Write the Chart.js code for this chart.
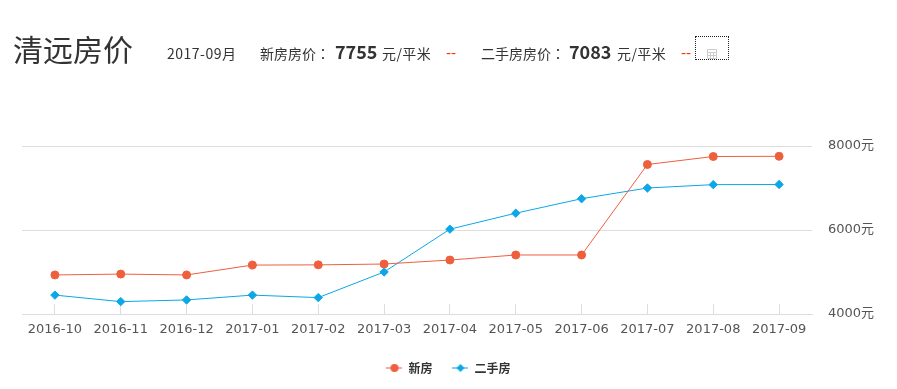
<!DOCTYPE html>
<html><head><meta charset="utf-8">
<script src="https://cdn.jsdelivr.net/npm/chart.js@4"></script>
<style>
html,body{margin:0;padding:0;background:#fff;width:897px;height:389px;overflow:hidden}
#wrap{position:relative;width:897px;height:389px;font-family:"Noto Sans CJK SC","Noto Sans",sans-serif;color:#333}
#wrap span.t{position:absolute;white-space:nowrap;line-height:20px;font-size:14px;top:43px}
#wrap span.n{font-size:18px;font-weight:700;top:41px}
#wrap span.u{letter-spacing:.4px}
#wrap span.d{color:#f30;font-family:"DejaVu Sans",sans-serif}
#wrap i{font-style:normal;font-family:"Noto Sans CJK TC",sans-serif}
#chart{position:absolute;left:0;top:0}
</style></head><body>
<div id="wrap">
<canvas id="chart" width="897" height="389"></canvas>
<span class="t" style="left:13px;top:26px;line-height:44px;font-size:30px;font-weight:400">清远房价</span>
<span class="t" style="left:167px;letter-spacing:.5px">2017-09月</span>
<span class="t" style="left:260px">新房房价<i>：</i></span>
<span class="t n" style="left:335px">7755</span>
<span class="t u" style="left:382px">元/平米</span>
<span class="t d" style="left:446px">--</span>
<span class="t" style="left:481px">二手房房价<i>：</i></span>
<span class="t n" style="left:569px">7083</span>
<span class="t u" style="left:617px">元/平米</span>
<span class="t d" style="left:681px">--</span>
<div style="position:absolute;left:695px;top:36px;width:32px;height:22px;border:1px dotted #222">
<svg width="10" height="10" style="position:absolute;left:11px;top:12px" viewBox="0 0 10 10"><path d="M.5.5h9v9h-9zM.5 3.5h9M.5 6.5h9M3.5 3.5v6M6.5 3.5v6" fill="none" stroke="#ccc"/></svg>
</div>
</div>
<script>
const categories=["2016-10","2016-11","2016-12","2017-01","2017-02","2017-03","2017-04","2017-05","2017-06","2017-07","2017-08","2017-09"];
const newHomes=[4930,4950,4930,5165,5170,5190,5285,5405,5405,7560,7750,7755];
const resaleHomes=[4450,4295,4335,4450,4390,5000,6020,6400,6745,7000,7080,7083];
const yTicks=[4000,6000,8000];
const newColor="#ee5f3d", resaleColor="#0ba7e6";

function legendIcon(color,shape){
  const c=document.createElement('canvas');c.width=16;c.height=10;
  const x=c.getContext('2d');
  x.strokeStyle=color;x.globalAlpha=.7;x.lineWidth=1.5;x.beginPath();x.moveTo(0,5);x.lineTo(16,5);x.stroke();
  x.globalAlpha=1;x.fillStyle=color;x.beginPath();
  if(shape==='circle'){x.arc(8,5,4,0,Math.PI*2);}
  else{x.moveTo(8,1);x.lineTo(12,5);x.lineTo(8,9);x.lineTo(4,5);x.closePath();}
  x.fill();return c;
}
const icons=[legendIcon(newColor,'circle'),legendIcon(resaleColor,'diamond')];
const AXIS_FONT='"DejaVu Sans","Noto Sans CJK SC",sans-serif';

new Chart(document.getElementById('chart'),{
  type:'line',
  data:{labels:categories,datasets:[
    {label:'新房',data:newHomes,borderColor:newColor,backgroundColor:newColor,borderWidth:1,pointStyle:'circle',pointRadius:4,pointHoverRadius:4,tension:0},
    {label:'二手房',data:resaleHomes,borderColor:resaleColor,backgroundColor:resaleColor,borderWidth:1,pointStyle:'rectRot',pointRadius:4.2,pointHoverRadius:4.2,tension:0}
  ]},
  options:{
    responsive:false,animation:false,
    layout:{padding:{left:0,top:146,right:0,bottom:5}},
    plugins:{
      tooltip:{enabled:false},
      legend:{position:'bottom',labels:{
        usePointStyle:true,pointStyleWidth:16,boxHeight:10,padding:20,color:'#333',
        font:{family:'"Noto Sans CJK SC",sans-serif',size:12,weight:'bold'},
        generateLabels(chart){return chart.data.datasets.map((d,i)=>({text:d.label,pointStyle:icons[i],datasetIndex:i,fontColor:'#333',hidden:false,lineWidth:0,strokeStyle:'transparent',fillStyle:d.borderColor}));}
      }}
    },
    scales:{
      x:{offset:true,
        grid:{drawOnChartArea:false,drawTicks:true,tickLength:-10,color:'#ddd',lineWidth:1},
        border:{display:true,color:'#ddd',width:1},
        ticks:{color:'#555',font:{family:AXIS_FONT,size:13},maxRotation:0,autoSkip:false,padding:18},
        afterFit(s){s.height=28;}
      },
      y:{position:'right',min:4000,max:8000,
        afterBuildTicks(s){s.ticks=yTicks.map(v=>({value:v}));},
        grid:{color:'#ddd',lineWidth:1,drawTicks:false},
        border:{display:false},
        ticks:{color:'#555',padding:16,font:{family:AXIS_FONT,size:13},callback:v=>v+'元'},
        afterFit(s){s.width=85;}
      },
      gutter:{position:'left',min:0,max:1,
        grid:{display:false},border:{display:false},
        ticks:{display:false},
        afterFit(s){s.width=22;}
      }
    }
  }
});
</script>
</body></html>
